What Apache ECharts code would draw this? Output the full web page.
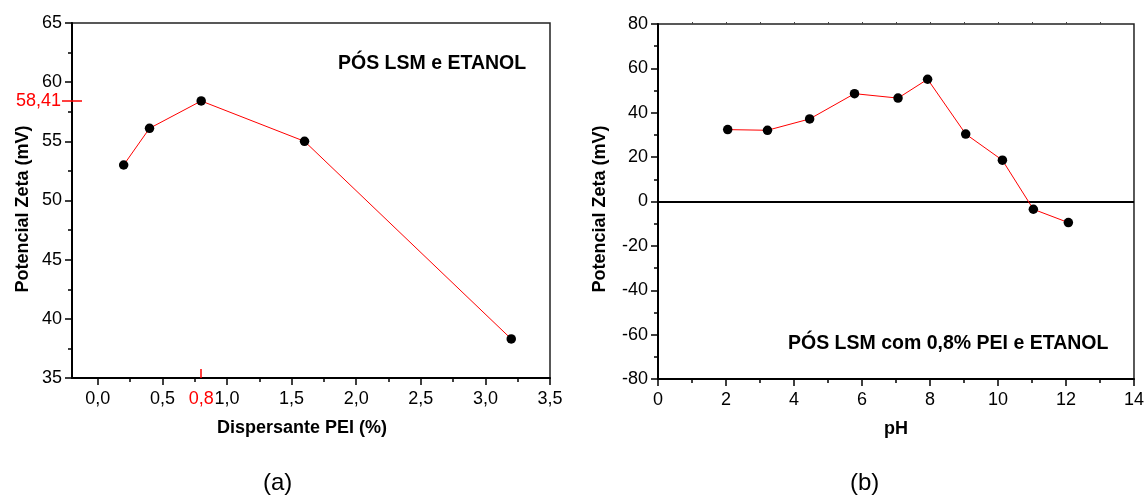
<!DOCTYPE html>
<html><head><meta charset="utf-8">
<script src="https://cdn.jsdelivr.net/npm/echarts@6/dist/echarts.min.js"></script>
<style>html,body{margin:0;padding:0;background:#fff}#c{width:1147px;height:497px}</style>
</head><body><div id="c"></div>
<script>
const peiX = [0.2, 0.4, 0.8, 1.6, 3.2];
const peiZeta = [53.0, 56.1, 58.41, 55.0, 38.3];
const phX = [2.05, 3.22, 4.46, 5.78, 7.06, 7.93, 9.05, 10.13, 11.04, 12.07];
const phZeta = [32.4, 32.1, 37.2, 48.6, 46.6, 55.1, 30.4, 18.6, -3.5, -9.5];
const peiTicks = [0, 0.5, 1.0, 1.5, 2.0, 2.5, 3.0, 3.5];
const peiMinorTicks = [0.25, 0.75, 1.25, 1.75, 2.25, 2.75, 3.25];
const peakX = [0.8];
const peakY = [58.41];
const phTopTicks = [1, 2, 3, 4, 5, 6, 7, 8, 9, 10, 11, 12, 13];
const titleA = 'PÓS LSM e ETANOL';
const titleB = 'PÓS LSM com 0,8% PEI e ETANOL';

const FONT = '"Liberation Sans", Arial, sans-serif';
const comma1 = v => Number(v).toFixed(1).replace('.', ',');
const comma2 = v => Number(v).toFixed(2).replace('.', ',');

const G0 = {left: 72, top: 23, width: 478, height: 355};
const G1 = {left: 658, top: 24, width: 481, height: 355};

const hidden = {show: false};
const labelStyle = {fontFamily: FONT, fontSize: 18, color: '#000'};
const nameStyle = {fontFamily: FONT, fontSize: 18, fontWeight: 'bold', color: '#000'};
const RED = '#ff0000';

const chart = echarts.init(document.getElementById('c'), null, {renderer: 'canvas'});
chart.setOption({
  animation: false,
  backgroundColor: '#fff',
  grid: [
    Object.assign({show: true, borderColor: '#222', borderWidth: 1.5, containLabel: false}, G0),
    Object.assign({show: false}, G0),
    Object.assign({show: false}, G0),
    Object.assign({show: true, borderColor: '#222', borderWidth: 1.5, containLabel: false}, G1)
  ],
  xAxis: [
    {gridIndex: 0, type: 'value', min: -0.2, max: 3.5, position: 'bottom',
     axisLine: {show: true, onZero: false, lineStyle: {color: '#000', width: 2}},
     axisTick: {show: true, customValues: peiTicks, length: 7, lineStyle: {color: '#000', width: 1.5}},
     axisLabel: Object.assign({show: true, customValues: peiTicks, margin: 12, formatter: comma1}, labelStyle),
     splitLine: hidden,
     name: 'Dispersante PEI (%)', nameLocation: 'middle', nameGap: 41,
     nameTextStyle: Object.assign({padding: [0, 18, 0, 0]}, nameStyle)},
    {gridIndex: 1, type: 'value', min: -0.2, max: 3.5, position: 'bottom',
     axisLine: {show: false, onZero: false},
     axisTick: {show: true, customValues: peiMinorTicks, length: 4, lineStyle: {color: '#000', width: 1.5}},
     axisLabel: hidden, splitLine: hidden},
    {gridIndex: 2, type: 'value', min: -0.2, max: 3.5, position: 'bottom',
     axisLine: {show: false, onZero: false, lineStyle: {color: RED}},
     axisTick: {show: true, inside: true, customValues: peakX, length: 9, lineStyle: {color: RED, width: 1.5}},
     axisLabel: Object.assign({show: true, customValues: peakX, margin: 12, formatter: comma1}, labelStyle, {color: RED}),
     splitLine: hidden},
    {gridIndex: 3, type: 'value', min: 0, max: 14, interval: 2, position: 'bottom',
     axisLine: {show: true, onZero: false, lineStyle: {color: '#000', width: 2}},
     axisTick: {show: true, length: 7, lineStyle: {color: '#000', width: 1.5}},
     minorTick: {show: true, splitNumber: 2, length: 4, lineStyle: {color: '#000', width: 1.5}},
     axisLabel: Object.assign({show: true, margin: 12}, labelStyle),
     splitLine: hidden, minorSplitLine: hidden,
     name: 'pH', nameLocation: 'middle', nameGap: 41, nameTextStyle: nameStyle},
    {gridIndex: 3, type: 'value', min: 0, max: 14, position: 'top',
     axisLine: {show: false, onZero: false},
     axisTick: {show: true, customValues: phTopTicks, length: 2, lineStyle: {color: '#444', width: 1}},
     axisLabel: hidden, splitLine: hidden}
  ],
  yAxis: [
    {gridIndex: 0, type: 'value', min: 35, max: 65, interval: 5, position: 'left',
     axisLine: {show: true, onZero: false, lineStyle: {color: '#000', width: 2}},
     axisTick: {show: true, length: 7, lineStyle: {color: '#000', width: 1.5}},
     minorTick: {show: true, splitNumber: 2, length: 4, lineStyle: {color: '#000', width: 1.5}},
     axisLabel: Object.assign({show: true, margin: 10}, labelStyle),
     splitLine: hidden, minorSplitLine: hidden,
     name: 'Potencial Zeta (mV)', nameLocation: 'middle', nameGap: 40,
     nameTextStyle: Object.assign({padding: [0, 17, 0, 0]}, nameStyle)},
    {gridIndex: 1, type: 'value', min: 35, max: 65, position: 'left', offset: -10,
     axisLine: {show: false, onZero: false, lineStyle: {color: RED}},
     axisTick: {show: true, customValues: peakY, length: 20, lineStyle: {color: RED, width: 1.5}},
     axisLabel: Object.assign({show: true, customValues: peakY, margin: 21, formatter: comma2}, labelStyle, {color: RED}),
     splitLine: hidden},
    {gridIndex: 2, type: 'value', min: 35, max: 65, position: 'left',
     axisLine: hidden, axisTick: hidden, axisLabel: hidden, splitLine: hidden},
    {gridIndex: 3, type: 'value', min: -80, max: 80, interval: 20, position: 'left',
     axisLine: {show: true, onZero: false, lineStyle: {color: '#000', width: 2}},
     axisTick: {show: true, length: 7, lineStyle: {color: '#000', width: 1.5}},
     minorTick: {show: true, splitNumber: 2, length: 4, lineStyle: {color: '#000', width: 1.5}},
     axisLabel: Object.assign({show: true, margin: 10}, labelStyle),
     splitLine: hidden, minorSplitLine: hidden,
     name: 'Potencial Zeta (mV)', nameLocation: 'middle', nameGap: 49,
     nameTextStyle: Object.assign({padding: [0, 15, 0, 0]}, nameStyle)}
  ],
  series: [
    {type: 'line', xAxisIndex: 0, yAxisIndex: 0,
     data: peiX.map((x, i) => [x, peiZeta[i]]),
     symbol: 'circle', symbolSize: 9.5, showSymbol: true,
     itemStyle: {color: '#000'}, lineStyle: {color: RED, width: 1}, z: 3},
    {type: 'line', xAxisIndex: 3, yAxisIndex: 3,
     data: phX.map((x, i) => [x, phZeta[i]]),
     symbol: 'circle', symbolSize: 9.5, showSymbol: true,
     itemStyle: {color: '#000'}, lineStyle: {color: RED, width: 1}, z: 3,
     markLine: {silent: true, symbol: 'none', label: {show: false},
       lineStyle: {color: '#000', width: 2, type: 'solid'},
       data: [{yAxis: 0}], z: 2}}
  ],
  graphic: [
    {type: 'text', left: 338, top: 54, style: {text: titleA, font: 'bold 19.5px ' + FONT, fill: '#000'}},
    {type: 'text', left: 788, top: 334, style: {text: titleB, font: 'bold 19.5px ' + FONT, fill: '#000'}},
    {type: 'text', left: 263, top: 471, style: {text: '(a)', font: '24px ' + FONT, fill: '#000'}},
    {type: 'text', left: 850, top: 471, style: {text: '(b)', font: '24px ' + FONT, fill: '#000'}}
  ]
});
</script></body></html>
